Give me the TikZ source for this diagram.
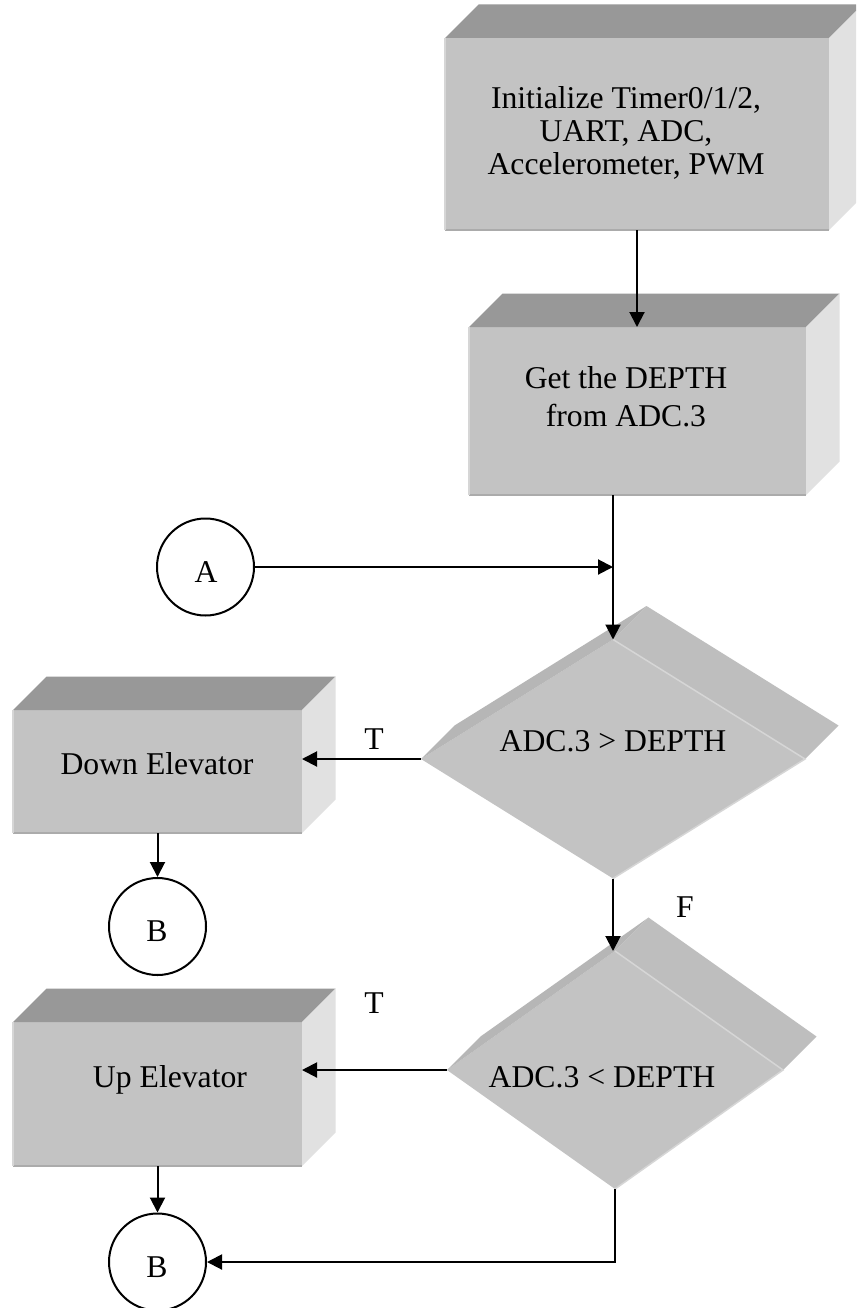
\documentclass[tikz,border=0pt]{standalone}
\usepackage{fontspec}
\setmainfont{Liberation Serif}
\usetikzlibrary{arrows.meta,calc,shapes.geometric}
\definecolor{facefront}{HTML}{C3C3C3}
\definecolor{facetop}{HTML}{989898}
\definecolor{faceside}{HTML}{E1E1E1}
\definecolor{faceedge}{HTML}{ABABAB}
\definecolor{facelight}{HTML}{D6D6D6}
\definecolor{dback}{HTML}{BEBEBE}
\definecolor{dstrip}{HTML}{B6B6B6}
\newcommand\depthoff{33.5}
% top and right faces of an extruded box node
\newcommand\cubefaces[1]{%
  \fill[facetop] (#1.north west) -- ++(\depthoff,-\depthoff)
    -- ($(#1.north east)+(\depthoff,-\depthoff)$) -- (#1.north east) -- cycle;
  \fill[faceside] (#1.north east) -- ++(\depthoff,-\depthoff)
    -- ($(#1.south east)+(\depthoff,-\depthoff)$) -- (#1.south east) -- cycle;
  \draw[faceedge, line width=2pt] (#1.south west) -- (#1.south east);
  \draw[facelight, line width=1.5pt] (#1.north west) -- (#1.south west);
}
% extruded back part of a decision diamond
\newcommand\diamondfaces[1]{%
  \fill[dstrip] (#1.west) -- ++(\depthoff,-\depthoff)
    -- ($(#1.north)+(\depthoff,-\depthoff)$) -- (#1.north) -- cycle;
  \fill[dback] (#1.north) -- ++(\depthoff,-\depthoff)
    -- ($(#1.east)+(\depthoff,-\depthoff)$) -- (#1.east) -- cycle;
  \draw[facelight, line width=1.5pt] (#1.north) -- (#1.east) -- (#1.south);
}
\begin{document}
\begin{tikzpicture}[x=1pt,y=-1pt,
  front/.style={rectangle, fill=facefront, inner sep=0pt, outer sep=0pt},
  decision/.style={diamond, fill=facefront, inner sep=0pt, outer sep=0pt},
  connector/.style={circle, draw, line width=2pt, minimum size=97pt, inner sep=0pt},
  txt/.style={inner sep=0pt, font=\fontsize{31.7}{33}\selectfont},
  arr/.style={draw, line width=2pt, -{Triangle[length=15pt,width=15pt]}}]
\useasboundingbox (0,0) rectangle (856,1308);
\clip (0,0) rectangle (856,1308);
\fill[white] (0,0) rectangle (856,1308);

% process boxes
\node[front, minimum width=384pt, minimum height=192pt] (init) at (637,134) {};
\node[front, minimum width=337pt, minimum height=168pt] (depth) at (637.5,411) {};
\node[front, minimum width=289pt, minimum height=123pt] (down) at (157.5,771.5) {};
\node[front, minimum width=289pt, minimum height=144pt] (up) at (157.5,1094) {};
\cubefaces{init}
\cubefaces{depth}
\cubefaces{down}
\cubefaces{up}

% decisions
\node[decision, minimum width=384pt, minimum height=239pt] (d1) at (613,759) {};
\node[decision, minimum width=336pt, minimum height=238pt] (d2) at (615,1070) {};
\diamondfaces{d1}
\diamondfaces{d2}

% connectors
\node[connector] (A) at (205.5,567) {};
\node[connector] (B1) at (157.5,926.5) {};
\node[connector] (B2) at (157.5,1262) {};

% texts
\node[txt, align=center] (initT) at (626,133)
  {Initialize Timer0/1/2,\\UART, ADC,\\Accelerometer, PWM};
\node[txt, align=center, font=\fontsize{31.7}{38}\selectfont] (depthT) at (626,397)
  {Get the DEPTH\\from ADC.3};
\node[txt, anchor=base] (downT) at (157,774) {Down Elevator};
\node[txt, anchor=base] (upT) at (170,1087) {Up Elevator};
\node[txt, anchor=base] (d1T) at (613,751) {ADC.3 > DEPTH};
\node[txt, anchor=base] (d2T) at (602,1087) {ADC.3 < DEPTH};
\node[txt, anchor=base] (AT) at (206,582) {A};
\node[txt, anchor=base] (B1T) at (157,941) {B};
\node[txt, anchor=base] (B2T) at (157,1277) {B};
\node[txt, anchor=base] (T1) at (374,749) {T};
\node[txt, anchor=base] (T2) at (374,1013) {T};
\node[txt, anchor=base] (F1) at (685,917) {F};

% flow lines
\draw[arr] (init.south) -- (init.south |- depth.north);
\draw[arr] (depth.south -| d1.north) -- (d1.north);
\draw[arr] (A.east) -- (A.east -| d1.north);
\draw[arr] (d1.west) -- (d1.west -| down.east);
\draw[arr] (down.south) -- (B1.north);
\draw[arr] (d1.south) -- (d1.south |- d2.north);
\draw[arr] (d2.west) -- (d2.west -| up.east);
\draw[arr] (up.south) -- (B2.north);
\draw[arr] (d2.south) |- (B2.east);
\end{tikzpicture}
\end{document}
